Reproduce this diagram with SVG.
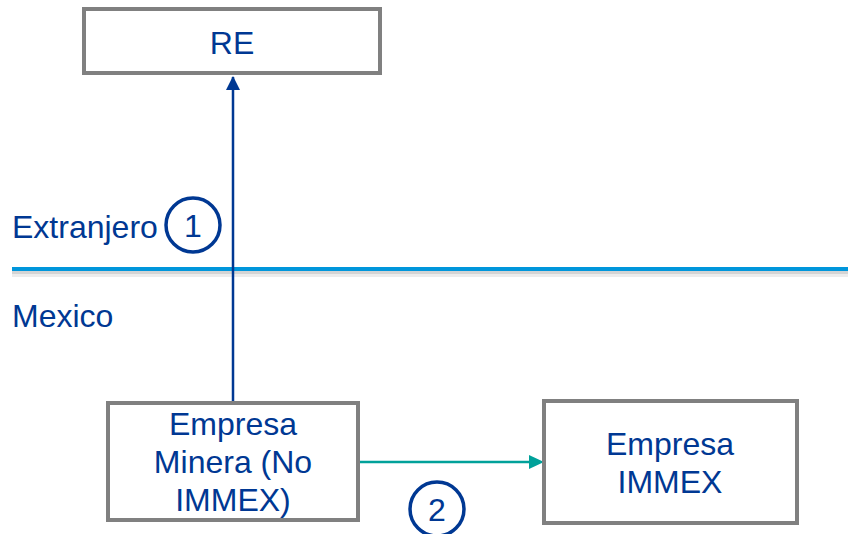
<svg xmlns="http://www.w3.org/2000/svg" width="848" height="534" viewBox="0 0 848 534">
<defs>
<style>
.box{fill:#fff;stroke:#808080;stroke-width:4}
.t{font-family:"Liberation Sans",Arial,sans-serif;font-size:32px;fill:#003893}
.c{fill:#fff;stroke:#003893;stroke-width:3.5}
</style>
</defs>
<rect width="848" height="534" fill="#fff"/>
<g id="boundary">
<rect x="12" y="271" width="836" height="3" fill="#d4d4d4"/>
<rect x="12" y="274" width="836" height="3" fill="#ececec"/>
<rect x="12" y="267" width="836" height="4" fill="#0096DB"/>
<text class="t" x="12" y="238">Extranjero</text>
<text class="t" x="12" y="327">Mexico</text>
</g>
<g id="connectors">
<line x1="233" y1="402" x2="233" y2="77" stroke="#003893" stroke-width="2.5"/>
<path d="M226,90 L233,76 L240,90 z" fill="#003893"/>
<line x1="359" y1="462" x2="530" y2="462" stroke="#00A19A" stroke-width="2.5"/>
<path d="M529,455 L544,462 L529,469 z" fill="#00A19A"/>
</g>
<g id="re">
<rect class="box" x="84" y="9" width="296" height="64"/>
<text class="t" x="232" y="54" text-anchor="middle">RE</text>
</g>
<g id="minera">
<rect class="box" x="108" y="403" width="250" height="117"/>
<text class="t" x="233" y="435" text-anchor="middle">Empresa</text>
<text class="t" x="233" y="473" text-anchor="middle">Minera (No</text>
<text class="t" x="233" y="511" text-anchor="middle">IMMEX)</text>
</g>
<g id="immex">
<rect class="box" x="544" y="401" width="253" height="122"/>
<text class="t" x="670" y="455" text-anchor="middle">Empresa</text>
<text class="t" x="670" y="493" text-anchor="middle">IMMEX</text>
</g>
<g id="step1">
<circle class="c" cx="193" cy="225" r="27"/>
<text class="t" x="193" y="237" text-anchor="middle">1</text>
</g>
<g id="step2">
<circle class="c" cx="437" cy="509" r="27"/>
<text class="t" x="437" y="521" text-anchor="middle">2</text>
</g>
</svg>
